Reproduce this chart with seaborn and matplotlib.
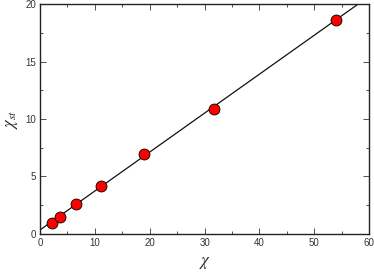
import numpy as np
import matplotlib
matplotlib.use("Agg")
import matplotlib.pyplot as plt
import matplotlib.ticker as ticker
import seaborn as sns

sns.set_style("ticks")
plt.rcParams['font.family'] = ['Liberation Sans', 'DejaVu Sans']
plt.rcParams['mathtext.fontset'] = 'stix'

# measured points
chi = [2.2, 3.7, 6.5, 11.1, 19.0, 31.7, 54.0]
chi_st = [0.96, 1.5, 2.65, 4.2, 6.95, 10.85, 18.65]

# straight fit line, end points
fit_x = [0, 60]
fit_y = [0.35, 20.68]

fig, ax = plt.subplots(figsize=(3.74, 2.73), dpi=100)
ax.plot(fit_x, fit_y, color='#111111', linewidth=0.9, zorder=2)
sns.scatterplot(x=chi, y=chi_st, ax=ax, color='red', edgecolor='black',
                linewidth=0.6, s=62, zorder=3)

ax.set_xlim(0, 60)
ax.set_ylim(0, 20)
ax.xaxis.set_major_locator(ticker.MultipleLocator(10))
ax.xaxis.set_minor_locator(ticker.MultipleLocator(5))
ax.yaxis.set_major_locator(ticker.MultipleLocator(5))
ax.yaxis.set_minor_locator(ticker.MultipleLocator(2.5))
ax.tick_params(which='both', direction='in', top=True, right=True,
               labelsize=7, width=0.6, colors='#333333', pad=3)
ax.tick_params(which='major', length=4)
ax.tick_params(which='minor', length=2)
for s in ax.spines.values():
    s.set_linewidth(1.0)
    s.set_color('#222222')

ax.set_xlabel(r'$\chi$', fontsize=12, va='center')
ax.set_ylabel(r'$\chi_{st}$', fontsize=12, va='center')
ax.xaxis.set_label_coords(0.5, -0.125)
ax.yaxis.set_label_coords(-0.085, 0.5)

fig.subplots_adjust(left=0.107, right=0.987, top=0.985, bottom=0.143)
fig.savefig('out.png', dpi=100)
